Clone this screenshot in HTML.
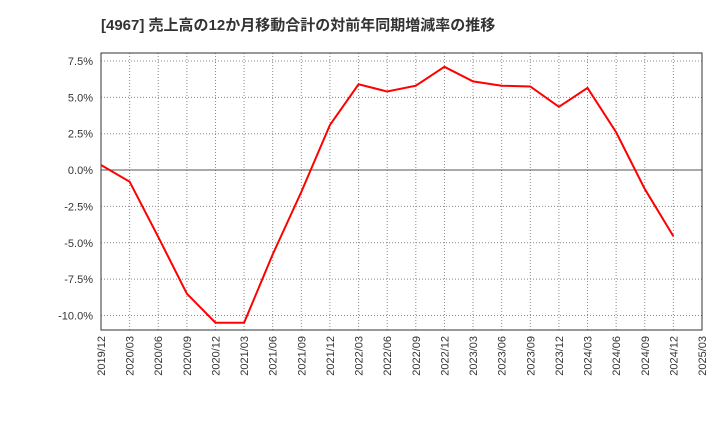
<!DOCTYPE html>
<html><head><meta charset="utf-8"><style>
body{margin:0;background:#fff;font-family:"Liberation Sans","Noto Sans CJK JP",sans-serif;}
</style></head><body>
<svg id="chart" width="720" height="440" xmlns="http://www.w3.org/2000/svg">
<text x="101" y="30" font-size="15" font-weight="bold" fill="#333" font-family="Liberation Sans, Noto Sans CJK JP, sans-serif">[4967]  売上高の12か月移動合計の対前年同期増減率の推移</text>
<g id="grid"></g><g id="axes"></g><g id="series"></g>
</svg>
<script>
const categories=["2019/12","2020/03","2020/06","2020/09","2020/12","2021/03","2021/06","2021/09","2021/12","2022/03","2022/06","2022/09","2022/12","2023/03","2023/06","2023/09","2023/12","2024/03","2024/06","2024/09","2024/12","2025/03"];
const values=[0.35,-0.8,-4.6,-8.5,-10.5,-10.5,-5.8,-1.5,3.1,5.9,5.4,5.8,7.1,6.1,5.8,5.75,4.35,5.65,2.6,-1.3,-4.55];
const yTicks=[7.5,5.0,2.5,0,-2.5,-5.0,-7.5,-10.0];
const yTickLabels=["7.5%","5.0%","2.5%","0.0%","-2.5%","-5.0%","-7.5%","-10.0%"];
const NS="http://www.w3.org/2000/svg";
const L=101,R=702,T=53,B=330,yMin=-11.0,yMax=8.05;
const x=i=>L+(R-L)*i/(categories.length-1);
const y=v=>B-(v-yMin)/(yMax-yMin)*(B-T);
function mk(t,a,p){const e=document.createElementNS(NS,t);for(const k in a)e.setAttribute(k,a[k]);p.appendChild(e);return e;}
const grid=document.getElementById('grid'),axes=document.getElementById('axes'),ser=document.getElementById('series');
categories.forEach((c,i)=>{
 const g=mk('line',{x1:x(i),x2:x(i),y1:T,y2:B,stroke:'#888','stroke-dasharray':'1,2','stroke-width':1},grid);
 
 
 const t=mk('text',{x:0,y:0,'font-size':11,fill:'#333','text-anchor':'end',transform:`translate(${x(i)+4},${B+6}) rotate(-90)`},axes);
 t.textContent=c;
 
 
});
yTicks.forEach((v,i)=>{
 const g=mk('line',{x1:L,x2:R,y1:y(v),y2:y(v),stroke:v===0?'#555':'#888','stroke-dasharray':v===0?'none':'1,2','stroke-width':1},grid);
 
 
 const t=mk('text',{x:L-8,y:y(v)+4,'font-size':11,fill:'#333','text-anchor':'end'},axes);
 t.textContent=yTickLabels[i];
 
 
});
const fr=mk('rect',{x:L,y:T,width:R-L,height:B-T,fill:'none',stroke:'#333','stroke-width':1},axes);


const pl=mk('polyline',{points:values.map((v,i)=>x(i)+','+y(v)).join(' '),fill:'none',stroke:'#ff0000','stroke-width':2},ser);


</script>
</body></html>
